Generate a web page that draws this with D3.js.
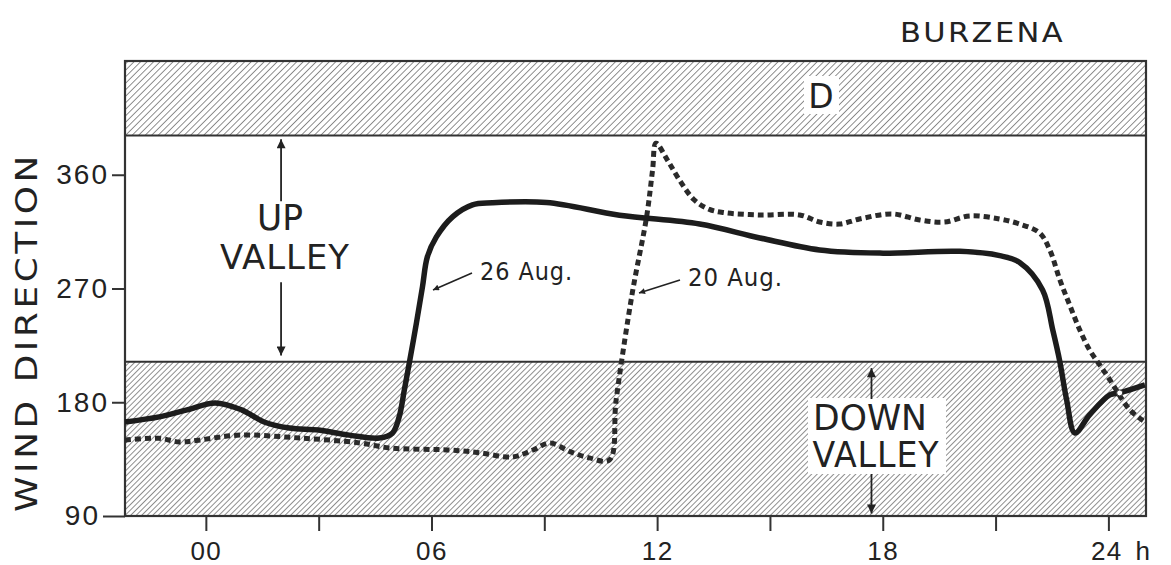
<!DOCTYPE html>
<html>
<head>
<meta charset="utf-8">
<script src="https://cdn.jsdelivr.net/npm/d3@7"></script>
<style>
  body { margin: 0; background: #fff; }
  svg { display: block; font-family: 'DejaVu Sans', sans-serif; }
</style>
</head>
<body>
<svg id="chart" width="1171" height="565"></svg>
<script>
// hours (day runs from before midnight to after midnight), wind direction in degrees
const aug26Hours = [-2.15, -1.24, -0.5, 0.25, 0.95, 1.55, 2.22, 3.0, 3.81, 4.61, 4.96, 5.14, 5.28, 5.41, 5.6, 5.76, 5.89, 6.13, 6.56, 7.09, 7.62, 9.06, 11.0, 13.13, 14.73, 16.32, 17.92, 20.05, 21.11, 21.64, 22.25, 22.52, 22.71, 22.89, 23.11, 23.5, 24.04, 24.3, 24.97];
const aug26Dir   = [164.4, 168.4, 174, 179.5, 174, 164.4, 159.6, 158, 154, 151.7, 155.5, 168.4, 190, 211, 242.8, 271.3, 295, 310.8, 326.7, 336.2, 337.8, 338, 328, 321, 310, 300.5, 298, 299.4, 296, 290.6, 268.9, 237.2, 211.9, 181.8, 155.7, 170, 185.8, 187.4, 193.7];

const aug20Hours = [-2.15, -1.25, -0.7, -0.2, 0.9, 2.5, 4.1, 4.9, 6.5, 7.3, 8.15, 8.7, 9.15, 9.7, 10.2, 10.73, 10.91, 11.34, 11.72, 11.88, 11.97, 12.27, 12.59, 12.99, 13.39, 13.79, 14.72, 15.79, 16.32, 16.85, 17.38, 18.26, 18.98, 19.64, 20.31, 21.11, 21.64, 22.17, 22.44, 22.71, 22.97, 23.24, 23.5, 23.77, 24.04, 24.57, 24.97];
const aug20Dir   = [150, 151.5, 148.6, 150, 154, 151.7, 147.8, 143.8, 142.2, 140, 136.7, 142.2, 147.8, 140.7, 136, 134.3, 181.8, 266.5, 326.7, 364, 385, 371.8, 356, 340, 332.6, 330, 328.2, 328.2, 322.6, 321, 325, 329, 324.2, 322.6, 327.4, 325, 321, 314, 300.6, 276.8, 257, 237.2, 221.4, 209.5, 197.7, 174, 164.4];

const hourTicks = [0, 3, 6, 9, 12, 15, 18, 21, 24];
const hourLabels = {0: '00', 6: '06', 12: '12', 18: '18', 24: '24 h'};
const dirTicks = [90, 180, 270, 360];

// direction ranges: D band on top, down-valley band below
const dBand = [391, 450];
const downBand = [90, 212];

const svg = d3.select('#chart');
const plotLeft = 125, plotRight = 1146, plotTop = 61, plotBottom = 516;

const x = d3.scaleLinear().domain([-2.15, 25]).range([plotLeft, plotRight]);
const y = d3.scaleLinear().domain([90, 450]).range([plotBottom, plotTop]);

const defs = svg.append('defs');
function hatch(id, gap) {
    defs.append('pattern')
        .attr('id', id)
        .attr('patternUnits', 'userSpaceOnUse')
        .attr('width', gap)
        .attr('height', gap)
        .attr('patternTransform', 'rotate(45)')
        .append('line')
        .attr('x1', 0).attr('y1', 0)
        .attr('x2', 0).attr('y2', gap)
        .attr('stroke', '#444')
        .attr('stroke-width', 1.2);
}
hatch('hatchTop', 4.6);
hatch('hatchLow', 3.9);

function head(id, len, wid) {
    defs.append('marker')
        .attr('id', id)
        .attr('viewBox', '0 0 10 10')
        .attr('refX', 10).attr('refY', 5)
        .attr('markerWidth', len).attr('markerHeight', wid)
        .attr('markerUnits', 'userSpaceOnUse')
        .attr('orient', 'auto')
        .append('path')
        .attr('d', 'M0,0 L10,5 L0,10 Z')
        .attr('fill', '#222');
}
head('head', 10, 6);
head('bigHead', 30, 9);

// bands
svg.append('rect')
    .attr('x', plotLeft).attr('width', plotRight - plotLeft)
    .attr('y', y(dBand[1])).attr('height', y(dBand[0]) - y(dBand[1]))
    .attr('fill', 'url(#hatchTop)');
svg.append('rect')
    .attr('x', plotLeft).attr('width', plotRight - plotLeft)
    .attr('y', y(downBand[1])).attr('height', y(downBand[0]) - y(downBand[1]))
    .attr('fill', 'url(#hatchLow)');

// white boxes behind band labels
svg.append('rect').attr('x', 804).attr('y', 76).attr('width', 35).attr('height', 38).attr('fill', '#fff');
svg.append('rect').attr('x', 808).attr('y', 398).attr('width', 138).attr('height', 76).attr('fill', '#fff');

// band edges
[dBand[0], downBand[1]].forEach(v => {
    svg.append('line')
        .attr('x1', plotLeft).attr('x2', plotRight)
        .attr('y1', y(v)).attr('y2', y(v))
        .attr('stroke', '#333').attr('stroke-width', 2);
});

// frame
svg.append('rect')
    .attr('x', plotLeft).attr('y', plotTop)
    .attr('width', plotRight - plotLeft).attr('height', plotBottom - plotTop)
    .attr('fill', 'none').attr('stroke', '#333').attr('stroke-width', 2.2);

// axes
const xAxis = svg.append('g')
    .attr('transform', `translate(0,${plotBottom})`)
    .call(d3.axisBottom(x).tickValues(hourTicks).tickSize(15)
        .tickFormat(d => hourLabels[d] || ''));
xAxis.select('.domain').remove();
xAxis.selectAll('line').attr('stroke', '#333').attr('stroke-width', 2);
xAxis.selectAll('text')
    .attr('y', 44).attr('dy', 0)
    .attr('fill', '#222')
    .style('font-size', '26px')
    .style('letter-spacing', '1.5px');
xAxis.selectAll('text').filter(d => d === 24)
    .attr('text-anchor', 'start')
    .attr('x', -18)
    .style('word-spacing', '4px');

const yAxis = svg.append('g')
    .attr('transform', `translate(${plotLeft},0)`)
    .call(d3.axisLeft(y).tickValues(dirTicks).tickSize(13).tickPadding(3)
        .tickFormat(d3.format('d')));
yAxis.select('.domain').remove();
yAxis.selectAll('line').attr('stroke', '#333').attr('stroke-width', 2);
yAxis.selectAll('line').filter(d => d === 90).attr('x2', -22);
yAxis.selectAll('text').filter(d => d === 90).attr('x', -25);
yAxis.selectAll('text')
    .attr('fill', '#222')
    .style('font-size', '28px')
    .style('letter-spacing', '2px');

// series
const line = d3.line()
    .x(d => x(d[0]))
    .y(d => y(d[1]))
    .curve(d3.curveCatmullRom.alpha(0.5));

svg.append('path')
    .datum(aug20Hours.map((h, i) => [h, aug20Dir[i]]))
    .attr('d', line)
    .attr('fill', 'none')
    .attr('stroke', '#2a2a2a')
    .attr('stroke-width', 5)
    .attr('stroke-dasharray', '6 4');

svg.append('path')
    .datum(aug26Hours.map((h, i) => [h, aug26Dir[i]]))
    .attr('d', line)
    .attr('fill', 'none')
    .attr('stroke', '#1c1c1c')
    .attr('stroke-width', 5.5)
    .attr('stroke-linejoin', 'round');

// crossing marker near the end of the night
const ci = aug26Hours.indexOf(24.3);
svg.append('circle')
    .attr('cx', x(aug26Hours[ci])).attr('cy', y(aug26Dir[ci]))
    .attr('r', 3).attr('fill', '#fff').attr('stroke', '#333').attr('stroke-width', 1);

// labels
function label(txt, px, py, size, len, anchor, spacing) {
    const t = svg.append('text')
        .attr('x', px).attr('y', py)
        .attr('fill', '#222')
        .attr('text-anchor', anchor || 'start')
        .style('font-size', size + 'px')
        .style('letter-spacing', (spacing || 0) + 'px')
        .text(txt);
    if (len) t.attr('textLength', len).attr('lengthAdjust', 'spacingAndGlyphs');
    return t;
}

label('BURZENA', 900, 42, 26, 165, 'start', 2);
label('D', 821, 108, 33, null, 'middle');

svg.append('text')
    .attr('transform', 'translate(37,332) rotate(-90)')
    .attr('text-anchor', 'middle')
    .attr('fill', '#222')
    .style('font-size', '30px')
    .style('letter-spacing', '3px')
    .attr('textLength', 360).attr('lengthAdjust', 'spacingAndGlyphs')
    .text('WIND DIRECTION');

label('UP', 280, 230, 36, 46, 'middle');
label('VALLEY', 285, 269, 33, 130, 'middle', 1);
label('DOWN', 870, 430, 36, 114, 'middle');
label('VALLEY', 876, 467, 36, 127, 'middle', 1);

label('26 Aug.', 480, 280, 24, 93, 'start', 1);
label('20 Aug.', 688, 286, 24, 95, 'start', 1);

// arrows
function arrow(x1, y1, x2, y2, head, w) {
    svg.append('line')
        .attr('x1', x1).attr('y1', y1).attr('x2', x2).attr('y2', y2)
        .attr('stroke', '#222').attr('stroke-width', w || 1.8)
        .attr('marker-end', `url(#${head})`);
}
const upX = x(2);
arrow(upX, y(339), upX, y(388), 'bigHead');
arrow(upX, y(275), upX, y(217), 'bigHead');
const downX = x(17.7);
arrow(downX, 399, downX, y(207), 'bigHead');
arrow(downX, 474, downX, y(92), 'bigHead');

arrow(472, 273, 433, 290, 'head', 1.6);
arrow(680, 280, 639, 293, 'head', 1.6);
</script>
</body>
</html>
